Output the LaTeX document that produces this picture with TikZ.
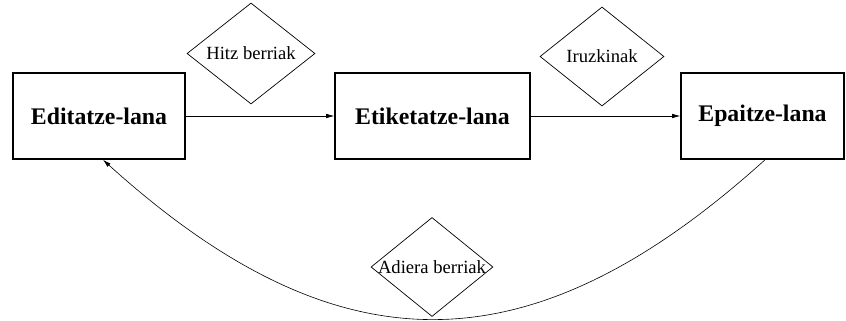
\documentclass[tikz,border=0pt]{standalone}
\usepackage{fontspec}
\newfontfamily\timesfont{LiberationSerif}[Extension=.ttf,UprightFont=*-Regular,BoldFont=*-Bold]
\usetikzlibrary{shapes.geometric,arrows.meta}

\begin{document}
\begin{tikzpicture}[x=1pt,y=-1pt,
  taskbox/.style={draw,line width=1.6pt,minimum width=172pt,minimum height=86pt,
    inner sep=0pt,font=\timesfont\fontsize{23.8}{28}\selectfont\bfseries},
  flowbox/.style={draw,line width=0.7pt,shape=diamond,inner sep=0pt},
  flowtext/.style={inner sep=0pt,font=\timesfont\fontsize{18.6}{22}\selectfont},
  link/.style={line width=0.6pt,-{Latex[length=8pt,width=4.5pt]}}]
  \useasboundingbox (0,0) rectangle (846,321);

  % work stages
  \node[taskbox] (edit) at (99,116) {Editatze-lana};
  \node[taskbox,minimum width=195pt] (tag) at (432.5,116) {Etiketatze-lana};
  \node[taskbox,minimum width=163pt] (judge) at (762.5,116) {Epaitze-lana};

  % exchanged items
  \node[flowbox,minimum width=128pt,minimum height=101pt] (d1) at (251,53.5) {};
  \node[flowtext] at (d1) {Hitz berriak};
  \node[flowbox,minimum width=124pt,minimum height=99pt] (d2) at (602,56.5) {};
  \node[flowtext] at (d2) {Iruzkinak};
  \node[flowbox,minimum width=122pt,minimum height=99pt] (d3) at (432,267) {};
  \node[flowtext] at (d3) {Adiera berriak};

  % flow between stages
  \draw[link] (judge.south -| 765,0) .. controls (530,372) and (338,372) .. (edit.south -| 103,0);
  \draw[link] (edit) -- (tag);
  \draw[link] (tag) -- (judge);
\end{tikzpicture}
\end{document}
